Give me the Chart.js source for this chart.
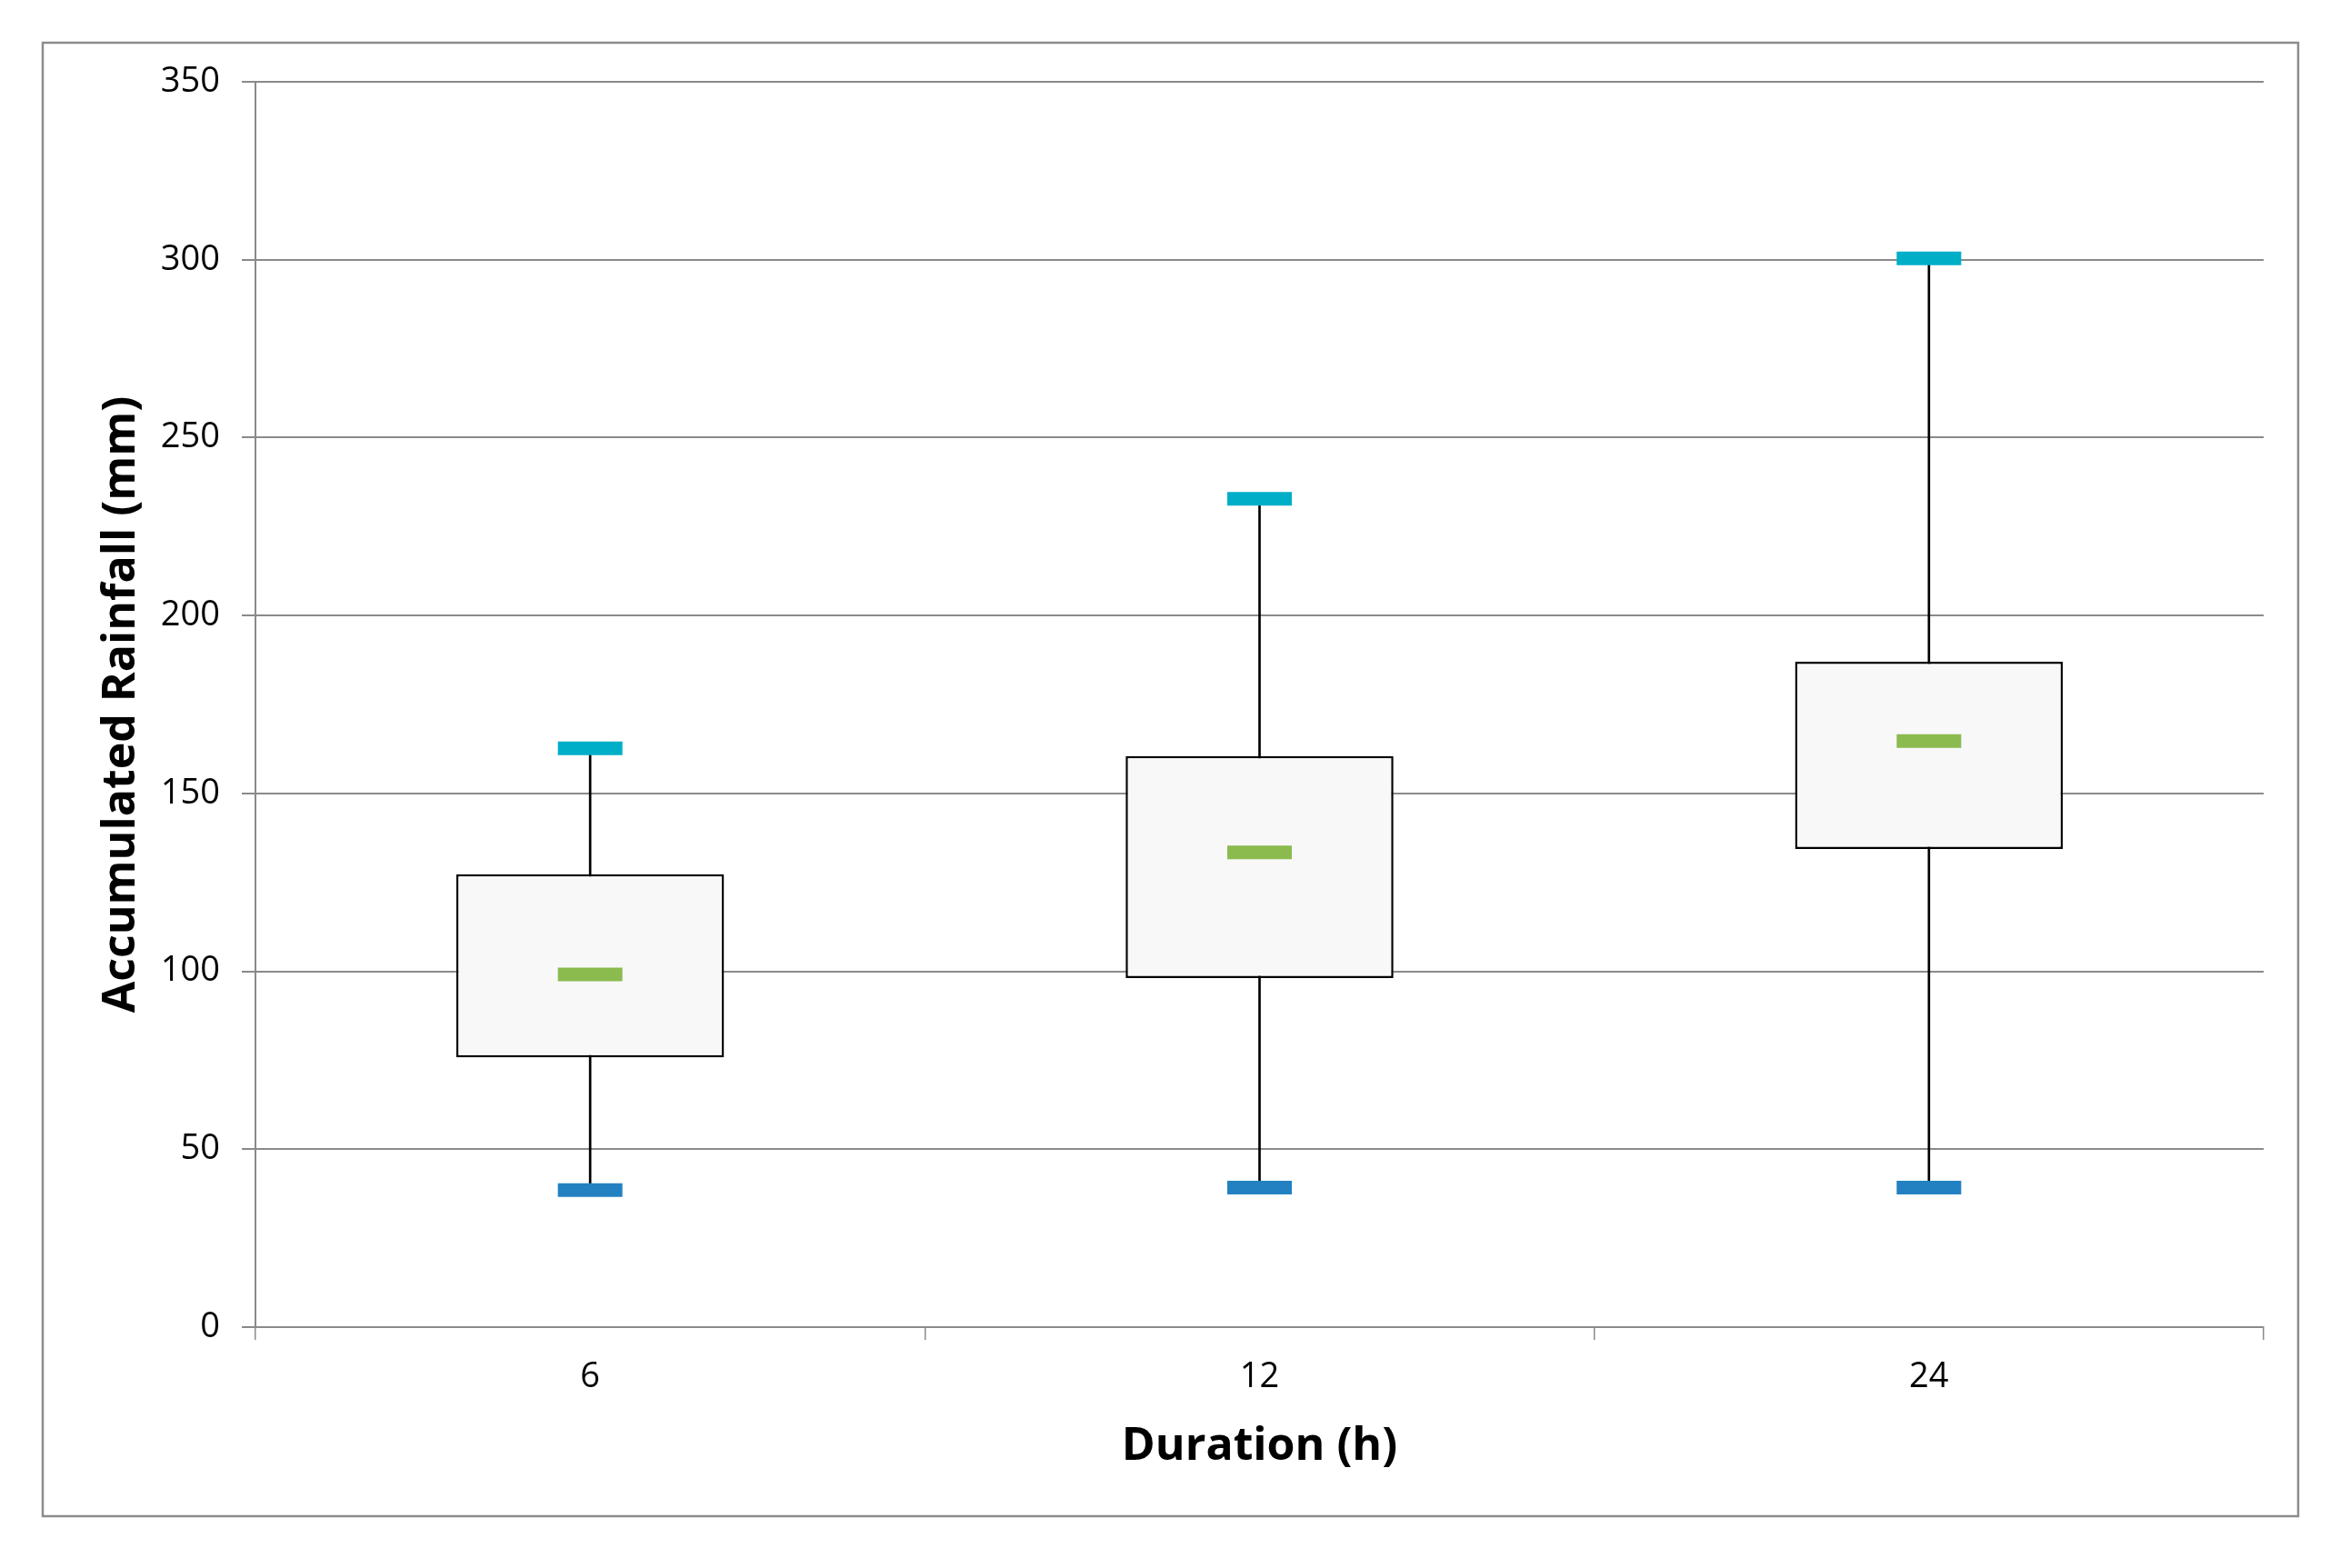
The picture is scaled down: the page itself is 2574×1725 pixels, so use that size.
<!DOCTYPE html>
<html>
<head>
<meta charset="utf-8">
<script src="https://cdn.jsdelivr.net/npm/chart.js@4/dist/chart.umd.min.js"></script>
<style>
  html, body { margin: 0; padding: 0; background: #ffffff; }
  canvas { display: block; }
</style>
</head>
<body>
<canvas id="c" width="2574" height="1725"></canvas>
<script>
// ---- data ----
const categories = ['6', '12', '24'];
const maxValues    = [162.7, 232.8, 300.4];
const q3Values     = [127.3, 160.5, 187.0];
const medianValues = [99.1, 133.4, 164.7];
const q1Values     = [75.8, 98.1, 134.4];
const minValues    = [38.5, 39.2, 39.2];
const yTicks = [0, 50, 100, 150, 200, 250, 300, 350];

const xTitle = 'Duration (h)';
const yTitle = 'Accumulated Rainfall (mm)';

const FONT = "'Open Sans', 'Liberation Sans', sans-serif";
const GRID = '#8a8a8a';

const framePlugin = {
  id: 'frame',
  beforeDraw(chart) {
    const ctx = chart.ctx;
    ctx.save();
    ctx.fillStyle = '#ffffff';
    ctx.fillRect(0, 0, chart.width, chart.height);
    ctx.strokeStyle = '#8c8c8c';
    ctx.lineWidth = 2.5;
    ctx.strokeRect(47, 47, 2481, 1621);
    ctx.restore();
  }
};

const capStyle = (color) => ({
  type: 'line',
  showLine: false,
  pointStyle: 'line',
  pointRadius: 35.5,
  pointHoverRadius: 35.5,
  pointBorderWidth: 15,
  pointHoverBorderWidth: 15,
  borderColor: color,
  backgroundColor: color,
  pointBorderColor: color
});

new Chart(document.getElementById('c'), {
  type: 'bar',
  data: {
    labels: categories,
    datasets: [
      Object.assign({ label: 'Max', data: maxValues, order: 0 }, capStyle('#00AEC7')),
      Object.assign({ label: 'Median', data: medianValues, order: 0 }, capStyle('#8BBB4F')),
      Object.assign({ label: 'Min', data: minValues, order: 0 }, capStyle('#2381C1')),
      {
        label: 'Box',
        type: 'bar',
        data: categories.map((c, i) => [q1Values[i], q3Values[i]]),
        backgroundColor: '#F8F8F8',
        borderColor: '#000000',
        borderWidth: 2.5,
        borderSkipped: false,
        grouped: false,
        categoryPercentage: 1.0,
        barPercentage: 0.4,
        order: 1
      },
      {
        label: 'Whisker',
        type: 'bar',
        data: categories.map((c, i) => [minValues[i], maxValues[i]]),
        backgroundColor: '#000000',
        borderWidth: 0,
        grouped: false,
        barThickness: 2,
        order: 2
      }
    ]
  },
  options: {
    responsive: false,
    devicePixelRatio: 1,
    animation: false,
    events: [],
    layout: { padding: { left: 48, right: 84, top: 90, bottom: 60 } },
    plugins: {
      legend: { display: false },
      tooltip: { enabled: false }
    },
    scales: {
      x: {
        offset: true,
        grid: {
          display: true,
          offset: true,
          drawOnChartArea: false,
          drawTicks: true,
          tickLength: 14,
          color: GRID,
          lineWidth: 1.5
        },
        border: { display: true, color: GRID, width: 2 },
        ticks: {
          color: '#000000',
          font: { family: FONT, size: 38 },
          padding: 18,
          maxRotation: 0
        },
        title: {
          display: true,
          text: xTitle,
          color: '#000000',
          font: { family: FONT, size: 50, weight: 'bold' },
          padding: { top: 0, bottom: 43 }
        },
        afterFit(scale) { scale.height = 1725 - 60 - 1460; }
      },
      y: {
        min: 0,
        max: 350,
        afterBuildTicks(scale) { scale.ticks = yTicks.map(v => ({ value: v })); },
        grid: {
          color: GRID,
          lineWidth: 2,
          tickLength: 15,
          drawTicks: true
        },
        border: { display: true, color: GRID, width: 2 },
        ticks: {
          color: '#000000',
          font: { family: FONT, size: 38 },
          padding: 24
        },
        title: {
          display: true,
          text: yTitle,
          color: '#000000',
          font: { family: FONT, size: 50, weight: 'bold' },
          padding: { top: 56, bottom: 0 }
        },
        afterFit(scale) { scale.width = 281 - 48; }
      }
    }
  },
  plugins: [framePlugin]
});
</script>
</body>
</html>
